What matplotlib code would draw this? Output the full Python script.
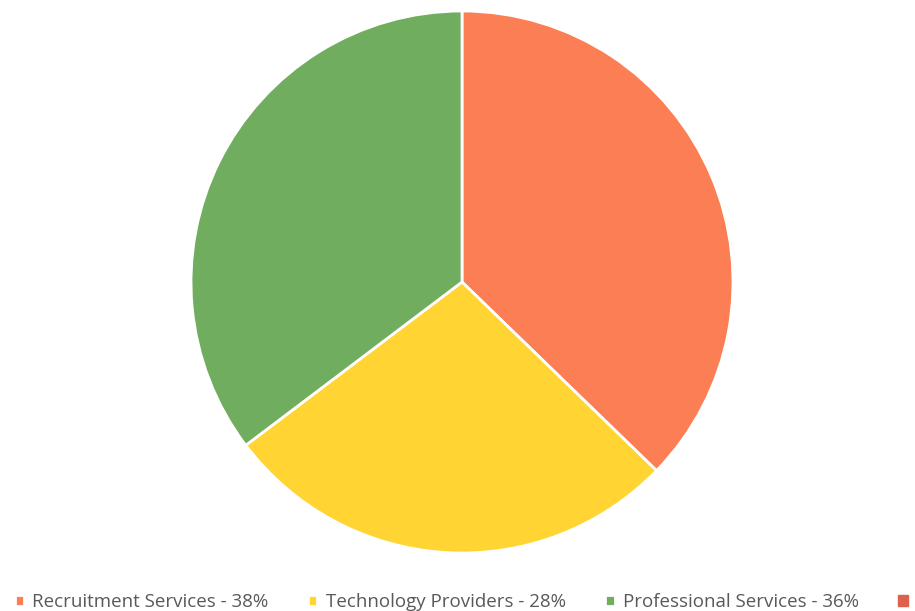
import matplotlib
matplotlib.use('Agg')

import matplotlib.pyplot as plt
from matplotlib.patches import Patch

# segments (the 4th legend entry is cut off at the right edge of the picture)
labels = ["Recruitment Services - 38%", "Technology Providers - 28%",
          "Professional Services - 36%"]
values = [38, 28, 36]
colors = ["#FB7E55", "#FFD433", "#70AD5E"]
extra_label = "Other"
extra_color = "#E0604E"

plt.rcParams['font.family'] = ['Open Sans', 'DejaVu Sans']

W, H = 915, 611
fig = plt.figure(figsize=(W / 100, H / 100), dpi=100)

cx, cy, r = 462, 282, 271
ax = fig.add_axes([(cx - r) / W, (H - cy - r) / H, 2 * r / W, 2 * r / H])
wedges, _ = ax.pie(values, colors=colors, startangle=90, counterclock=False,
                   radius=1, wedgeprops=dict(edgecolor="white", linewidth=2))
ax.set_xlim(-1, 1)
ax.set_ylim(-1, 1)
ax.set_aspect('equal')
ax.axis('off')

handles = list(wedges) + [Patch(color=extra_color)]
leg = fig.legend(handles, labels + [extra_label], ncol=4, loc='upper left',
                 bbox_to_anchor=(0.016, 1 - 593 / H), frameon=False,
                 fontsize=13.5, handlelength=0.5, handleheight=0.5,
                 handletextpad=0.45, columnspacing=2.1, labelcolor="#595959",
                 borderaxespad=0, borderpad=0)

fig.savefig("out.png", dpi=100)
